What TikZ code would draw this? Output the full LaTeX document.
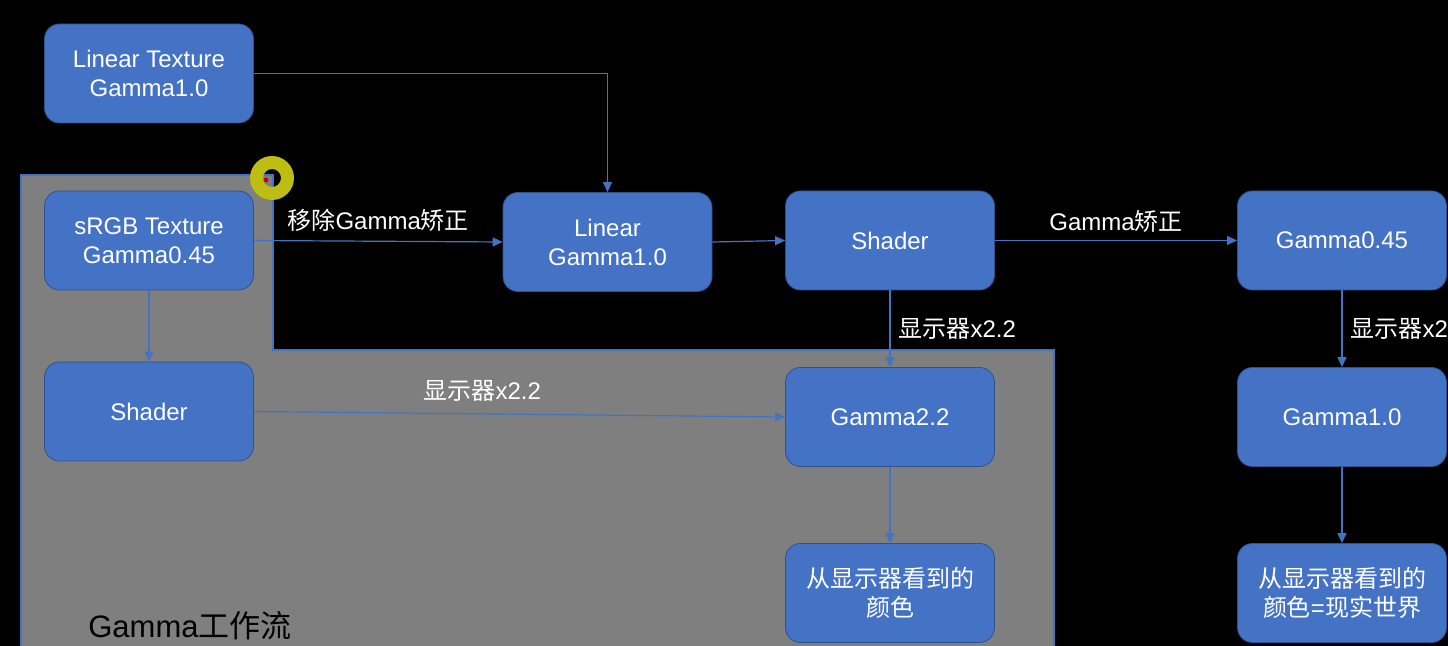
\documentclass[tikz,border=0pt]{standalone}
\usepackage{fontspec}
\setmainfont{Liberation Sans}
\newfontfamily\cjk{Noto Sans CJK SC}
\usepackage{tikz}
\usetikzlibrary{positioning, arrows.meta}
\definecolor{boxblue}{HTML}{4472C4}
\definecolor{boxedge}{HTML}{2F528F}
\definecolor{panelgray}{HTML}{7F7F7F}
\definecolor{cursorring}{HTML}{BDBD12}

\begin{document}
\begin{tikzpicture}[x=0.5pt, y=-0.5pt,
  box/.style={draw=boxedge, fill=boxblue, rounded corners=7.5pt, minimum width=104.5pt,
    minimum height=49.5pt, inner sep=0pt, align=center, text=white,
    font=\fontsize{12}{14.5}\selectfont},
  flow/.style={draw=boxblue, line width=0.6pt, -{Triangle[length=5pt,width=4.5pt]}},
  lbl/.style={inner sep=0pt, text=white, font=\fontsize{12}{14}\selectfont}]
\fill[black] (0,0) rectangle (1448,646);
\useasboundingbox (0,0) rectangle (1448,646);

% gray panel (Gamma workflow)
\fill[panelgray] (21,646) -- (21,175) -- (273,175) -- (273,350) -- (1054,350) -- (1054,646) -- cycle;
\draw[boxblue, line width=0.7pt] (21,646) -- (21,175) -- (273,175) -- (273,350) -- (1054,350) -- (1054,646);
\node[inner sep=0pt, font=\fontsize{15.5}{18}\selectfont] (flowname) at (190,626) {Gamma{\cjk 工作流}};

% nodes (left column)
\node[box] (lintex) at (149,73.5) {Linear Texture\\Gamma1.0};
\node[box] (srgb) at (149,240.5) {sRGB Texture\\Gamma0.45};
\node[box] (shadel) at (149,411.5) {Shader};

% nodes (middle)
\node[box] (linear) at (607.5,242) {Linear\\Gamma1.0};
\node[box] (shader) at (890,240.5) {Shader};
\node[box] (gammatwo) at (890,417) {Gamma2.2};
\node[box] (seen) at (890,593) {{\cjk 从显示器看到的}\\{\cjk 颜色}};

% nodes (right column)
\node[box] (gammahalf) at (1342,240.5) {Gamma0.45};
\node[box] (gammaone) at (1342,417) {Gamma1.0};
\node[box] (real) at (1342,593) {{\cjk 从显示器看到的}\\{\cjk 颜色}={\cjk 现实世界}};

% connectors
\draw[flow] (lintex.east) -| (linear.north);
\draw[flow] (srgb.east) -- node[lbl, above=4.5pt] (remove) {{\cjk 移除}Gamma{\cjk 矫正}} (linear.west);
\draw[flow] (linear.east) -- (shader.west);
\draw[flow] (shader.east) -- node[lbl, above=3.5pt] (correct) {Gamma{\cjk 矫正}} (gammahalf.west);
\draw[flow] (shader.south) -- node[lbl, right=4pt] (showa) {{\cjk 显示器}x2.2} (gammatwo.north);
\draw[flow] (srgb.south) -- (shadel.north);
\draw[flow] (shadel.east) -- node[lbl, above=6pt, pos=0.43] (showb) {{\cjk 显示器}x2.2} (gammatwo.west);
\draw[flow] (gammatwo.south) -- (seen.north);
\draw[flow] (gammahalf.south) -- node[lbl, anchor=west, xshift=4pt] (showc) {{\cjk 显示器}x2} (gammaone.north);
\draw[flow] (gammaone.south) -- (real.north);

% cursor highlight
\fill[cursorring, even odd rule] (272,178) circle [radius=11pt] circle [radius=4.5pt];
\fill[red!80!black] (266,180) circle [radius=1.2pt];
\end{tikzpicture}
\end{document}
